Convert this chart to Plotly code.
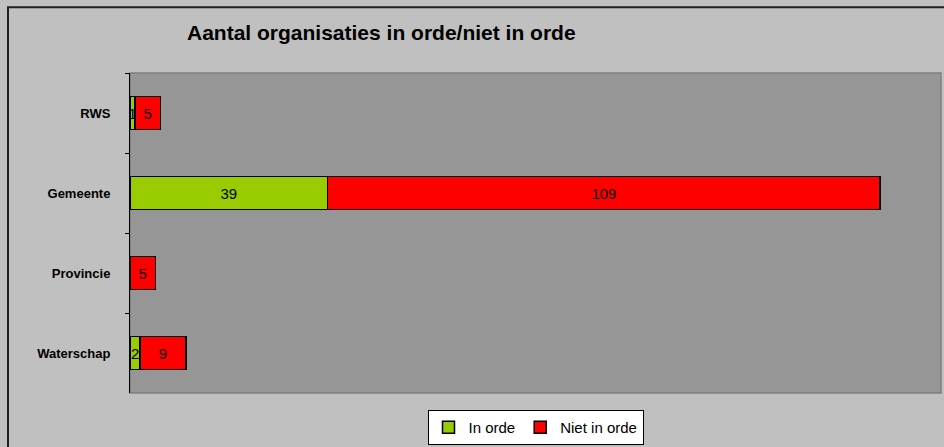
import plotly.graph_objects as go

categories = ["RWS", "Gemeente", "Provincie", "Waterschap"]
in_orde = [1, 39, 0, 2]
niet_in_orde = [5, 109, 5, 9]

W, H = 944, 447
L, R, T, B = 130, 3, 73, 53

def labels(vals):
    return [str(v) if v else "" for v in vals]

fig = go.Figure()
fig.add_trace(go.Bar(
    y=categories, x=in_orde, name="In orde", orientation="h",
    marker=dict(color="#99CC00", line=dict(color="black", width=1.5)),
    text=labels(in_orde), textposition="inside", insidetextanchor="middle",
    textfont=dict(family="Arial", size=15, color="black"),
    cliponaxis=False,
))
fig.add_trace(go.Bar(
    y=categories, x=niet_in_orde, name="Niet in orde", orientation="h",
    marker=dict(color="#FF0000", line=dict(color="black", width=1.5)),
    text=labels(niet_in_orde), textposition="inside", insidetextanchor="middle",
    textfont=dict(family="Arial", size=15, color="black"),
    cliponaxis=False,
))

pw = W - L - R
ph = H - T - B

fig.update_layout(
    width=W, height=H,
    barmode="stack", bargap=0.59,
    paper_bgcolor="#C0C0C0", plot_bgcolor="#969696",
    margin=dict(l=L, r=R, t=T, b=B, pad=0),
    font=dict(family="Arial", color="black"),
    uniformtext=dict(mode="show", minsize=15),
    title=dict(
        text="<b>Aantal organisaties in orde/niet in orde</b>",
        font=dict(family="Arial", size=21, color="black"),
        x=187 / W, xref="container", xanchor="left",
        y=1 - 33 / H, yref="container", yanchor="middle",
    ),
    xaxis=dict(range=[0, 160], visible=False, fixedrange=True),
    yaxis=dict(
        categoryorder="array", categoryarray=categories, autorange="reversed",
        showline=True, linecolor="black", linewidth=1,
        ticks="outside", ticklen=4, tickcolor="black", tickson="boundaries",
        tickfont=dict(family="Arial", size=13, color="black", weight="bold"),
        ticklabelstandoff=16, showgrid=False, zeroline=False,
    ),
    legend=dict(
        orientation="h", x=0.5, xanchor="center", y=-16 / ph, yanchor="top",
        bgcolor="white", bordercolor="black", borderwidth=1,
        font=dict(family="Arial", size=15, color="black"),
        itemwidth=30, traceorder="normal",
    ),
    shapes=[
        dict(type="rect", xref="paper", yref="paper", x0=0, x1=1, y0=0, y1=1,
             line=dict(color="#7F7F7F", width=1.5), layer="below"),
        dict(type="rect", xref="paper", yref="paper",
             x0=(8 - L) / pw, x1=(W + 5 - L) / pw,
             y0=(H - B - (H + 5)) / ph, y1=(H - B - 7) / ph,
             line=dict(color="#202020", width=2)),
    ],
)
fig.write_html(
    "out.html",
    config={"displayModeBar": False},
    post_script="document.body.style.margin='0';document.body.style.padding='0';",
)
